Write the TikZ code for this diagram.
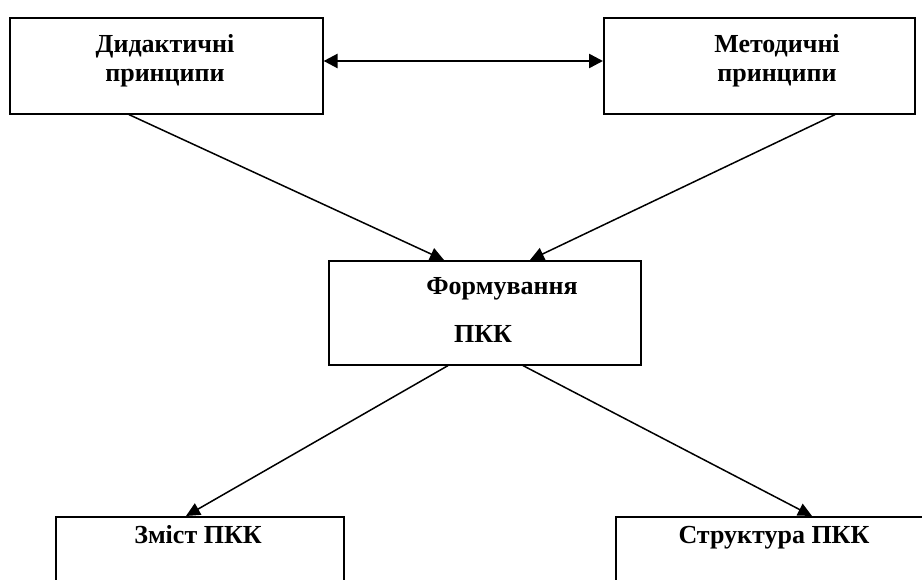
\documentclass[tikz,border=0pt]{standalone}
\usepackage{fontspec}
\setmainfont{Liberation Serif}
\usetikzlibrary{arrows.meta,calc}
\begin{document}
\begin{tikzpicture}[x=1pt,y=-1pt,
  box/.style={draw,line width=1.6pt,rectangle,inner sep=0pt,anchor=north west},
  lbl/.style={font=\fontsize{26}{30}\selectfont\bfseries,inner sep=0pt,anchor=base},
  tip/.style={Triangle[length=14pt,width=13pt]},
  conn/.style={line width=1.5pt,-{Triangle[length=14pt,width=13pt]}}]
\useasboundingbox (0,0) rectangle (922,580);
\clip (0,0) rectangle (922,580);
\node[box,minimum width=313pt,minimum height=96pt] (dyd) at (9,17) {};
\node[box,minimum width=311pt,minimum height=96pt] (met) at (603,17) {};
\node[box,minimum width=312pt,minimum height=104pt] (form) at (328,260) {};
\node[box,minimum width=288pt,minimum height=100pt] (zmist) at (55,516) {};
\node[box,minimum width=320pt,minimum height=100pt] (strukt) at (615,516) {};
\node[lbl] (tdyd1) at (165,53) {Дидактичні};
\node[lbl] (tdyd2) at (165,82) {принципи};
\node[lbl] (tmet1) at (777,53) {Методичні};
\node[lbl] (tmet2) at (777,82) {принципи};
\node[lbl] (tform1) at (502,295) {Формування};
\node[lbl] (tform2) at (483,343) {ПКК};
\node[lbl] (tzmist) at (198,543) {Зміст ПКК};
\node[lbl] (tstrukt) at (774,543) {Структура ПКК};
\draw[line width=2.5pt,{Triangle[length=14pt,width=14pt]}-{Triangle[length=14pt,width=14pt]}] (dyd.east |- 0,61) -- (met.west |- 0,61);
\draw[conn] ([xshift=120pt]dyd.south west) -- ([xshift=116pt]form.north west);
\draw[conn] ([xshift=232pt]met.south west) -- ([xshift=202pt]form.north west);
\draw[conn] ([xshift=120pt]form.south west) -- ([xshift=131pt]zmist.north west);
\draw[conn] ([xshift=195pt]form.south west) -- ([xshift=197pt]strukt.north west);
\end{tikzpicture}
\end{document}
